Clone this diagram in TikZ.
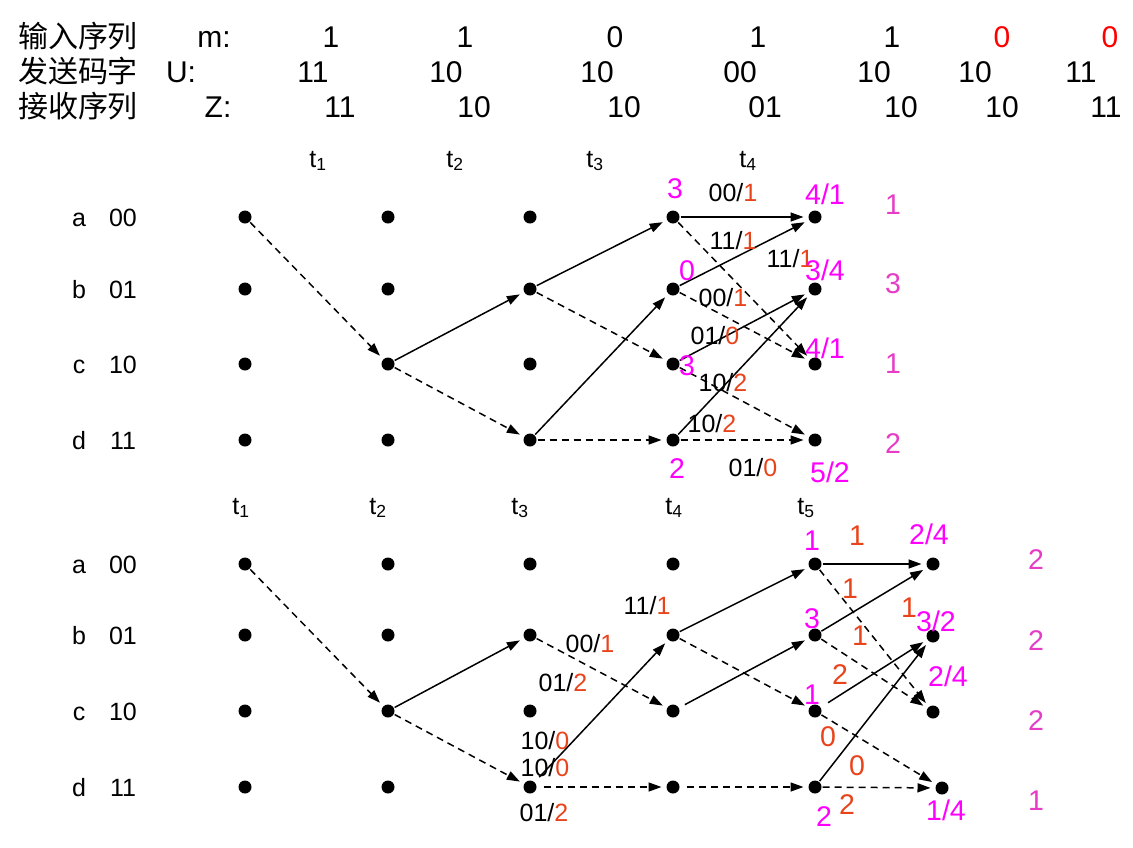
\documentclass[tikz,border=0pt]{standalone}
\usepackage{fontspec}
\setmainfont{Liberation Sans}
\newfontfamily\cjk{Noto Sans CJK SC}
\usepackage{xcolor}
\usepackage{tikz}
\usetikzlibrary{arrows.meta}

\definecolor{stmag}{HTML}{FF00FF}
\definecolor{stpink}{HTML}{E63CC6}
\definecolor{stred}{HTML}{E8441C}
\newcommand{\rd}[1]{\textcolor{stred}{#1}}

\tikzset{
  stdot/.style={circle, fill=black, inner sep=0pt, minimum size=13pt, outer sep=1pt},
  sol/.style={line width=1.5pt, -{Triangle[length=13pt,width=9pt]}, shorten >=4pt},
  das/.style={sol, dash pattern=on 7pt off 5pt},
  lbl/.style={font=\fontsize{25}{30}\selectfont, inner sep=0pt, text height=18pt, text depth=0pt},
  big/.style={font=\fontsize{28.5}{34}\selectfont, inner sep=0pt, text height=20.5pt, text depth=0pt},
  hdr/.style={font=\fontsize{30}{36}\selectfont, inner sep=0pt, text height=22pt, text depth=0pt},
}

\begin{document}
\begin{tikzpicture}[x=1pt, y=-1pt]
    \useasboundingbox (0,0) rectangle (1133,847);

    % Header
    \node[hdr] (hm) at (78,36) {\cjk 输入序列};
    \node[hdr] (hu) at (78,71) {\cjk 发送码字};
    \node[hdr] (hz) at (78,106) {\cjk 接收序列};
    \node[hdr] (km) at (214,36) {m:};
    \node[hdr] (ku) at (181,71) {U:};
    \node[hdr] (kz) at (218,106) {Z:};
    \foreach \v/\x/\c [count=\i] in {1/331/black,1/465/black,0/615/black,1/758/black,1/892/black,0/1002/red,0/1110/red}
        \node[hdr, text=\c] (m\i) at (\x,36) {\v};
    \foreach \v/\x [count=\i] in {11/313,10/446,10/597,00/740,10/874,10/975,11/1081}
        \node[hdr] (u\i) at (\x,71) {\v};
    \foreach \v/\x [count=\i] in {11/340,10/474,10/624,01/765,10/901,10/1002,11/1106}
        \node[hdr] (z\i) at (\x,106) {\v};

    % Upper trellis
    \foreach \x [count=\i] in {318,455,595,748}
        \node[lbl] (ut\i) at (\x,158) {t\textsubscript{\i}};
    \foreach \r/\s/\y in {a/00/217,b/01/289,c/10/364,d/11/440} {
        \node[lbl] (un\r) at (79,\y) {\r};
        \node[lbl] (us\r) at (123,\y) {\s};
        \foreach \x [count=\i] in {245,388,530,673,815}
            \node[stdot] (u\r\i) at (\x,\y) {};
    }
    \draw[das] (ua1) -- (uc2);
    \draw[sol] (uc2) -- (ub3);
    \draw[das] (uc2) -- (ud3);
    \draw[sol] (ub3) -- (ua4);
    \draw[das] (ub3) -- (uc4);
    \draw[sol] (ud3) -- (ub4);
    \draw[das] (ud3) -- (ud4);
    \draw[sol] (ua4) -- (ua5);
    \draw[das] (ua4) -- (uc5);
    \draw[sol] (ub4) -- (ua5);
    \draw[das] (ub4) -- (uc5);
    \draw[sol] (uc4) -- (ub5);
    \draw[das] (uc4) -- (ud5);
    \draw[sol] (ud4) -- (ub5);
    \draw[das] (ud4) -- (ud5);
    \foreach \x/\y/\t [count=\i] in {733/192/{00/\rd{1}}, 733/240/{11/\rd{1}}, 790/258/{11/\rd{1}},
        723/297/{00/\rd{1}}, 715/335/{01/\rd{0}}, 723/382/{10/\rd{2}}, 712/423/{10/\rd{2}}, 753/467/{01/\rd{0}}}
        \node[lbl] (ue\i) at (\x,\y) {\t};
    \foreach \x/\y/\t [count=\i] in {675/188/3, 687/270/0, 687/365/3, 677/468/2,
        825/194/{4/1}, 825/270/{3/4}, 825/348/{4/1}, 830/472/{5/2}}
        \node[big, text=stmag] (um\i) at (\x,\y) {\t};
    \foreach \t/\y [count=\i] in {1/204,3/283,1/363,2/443}
        \node[big, text=stpink] (up\i) at (893,\y) {\t};

    % Lower trellis
    \foreach \x [count=\i] in {241,378,520,674,806}
        \node[lbl] (lt\i) at (\x,505) {t\textsubscript{\i}};
    \foreach \r/\s/\y in {a/00/564,b/01/635,c/10/711,d/11/787} {
        \node[lbl] (ln\r) at (79,\y) {\r};
        \node[lbl] (ls\r) at (123,\y) {\s};
        \foreach \x [count=\i] in {245,388,530,673,815}
            \node[stdot] (l\r\i) at (\x,\y) {};
    }
    \node[stdot] (la6) at (933,564) {};
    \node[stdot] (lb6) at (933,636) {};
    \node[stdot] (lc6) at (933,712) {};
    \node[stdot] (ld6) at (942,788) {};
    \draw[das] (la1) -- (lc2);
    \draw[sol] (lc2) -- (lb3);
    \draw[das] (lc2) -- (ld3);
    \draw[das] (lb3) -- (lc4);
    \draw[sol, shorten <=6pt] (ld3) -- (lb4);
    \draw[das, shorten <=6pt] (ld3) -- (ld4);
    \draw[sol] (lb4) -- (la5);
    \draw[das] (lb4) -- (lc5);
    \draw[sol, shorten <=6pt] (lc4) -- (lb5);
    \draw[das, shorten <=6pt] (ld4) -- (ld5);
    \draw[sol] (la5) -- (la6);
    \draw[das] (la5) -- (lc6);
    \draw[sol] (lb5) -- (la6);
    \draw[das] (lb5) -- (lc6);
    \draw[sol, shorten <=8pt] (lc5) -- (lb6);
    \draw[das] (lc5) -- (ld6);
    \draw[sol] (ld5) -- (lb6);
    \draw[das] (ld5) -- (ld6);
    \foreach \x/\y/\t [count=\i] in {647/605/{11/\rd{1}}, 590/643/{00/\rd{1}}, 563/682/{01/\rd{2}},
        545/740/{10/\rd{0}}, 545/767/{10/\rd{0}}, 544/812/{01/\rd{2}}}
        \node[lbl] (le\i) at (\x,\y) {\t};
    \foreach \x/\y/\t [count=\i] in {857/535/1, 850/588/1, 909/607/1, 860/635/1,
        840/674/2, 828/736/0, 857/765/0, 847/804/2}
        \node[big, text=stred] (lr\i) at (\x,\y) {\t};
    \foreach \x/\y/\t [count=\i] in {812/540/1, 812/618/3, 812/694/1, 824/816/2,
        929/534/{2/4}, 936/621/{3/2}, 948/676/{2/4}, 946/810/{1/4}}
        \node[big, text=stmag] (lm\i) at (\x,\y) {\t};
    \foreach \t/\y [count=\i] in {2/559,2/640,2/720,1/800}
        \node[big, text=stpink] (lp\i) at (1036,\y) {\t};

\end{tikzpicture}
\end{document}
